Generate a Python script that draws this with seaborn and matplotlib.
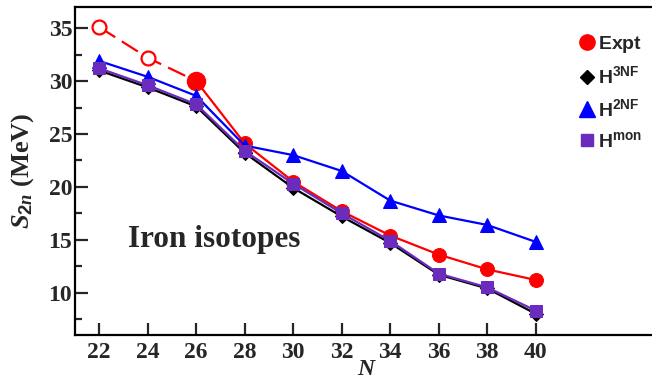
import matplotlib
matplotlib.use("Agg")
import matplotlib.pyplot as plt
from matplotlib.lines import Line2D
from matplotlib.ticker import MultipleLocator
import pandas as pd
import seaborn as sns

# Neutron numbers of the iron isotopes
N = [22, 24, 26, 28, 30, 32, 34, 36, 38, 40]

# Two-neutron separation energies (MeV)
expt = [35.1, 32.2, 30.0, 24.1, 20.5, 17.7, 15.4, 13.6, 12.2, 11.2]
h3nf = [31.0, 29.4, 27.6, 23.2, 19.9, 17.2, 14.7, 11.7, 10.4, 8.0]
h2nf = [31.9, 30.4, 28.6, 23.9, 23.0, 21.5, 18.7, 17.3, 16.4, 14.8]
hmon = [31.2, 29.6, 27.8, 23.4, 20.3, 17.5, 14.9, 11.8, 10.5, 8.3]

# Points 22 and 24 of the experimental series are extrapolated values
n_extrap = 2

sns.set_theme(style="ticks")
plt.rcParams["font.family"] = ["Liberation Serif", "DejaVu Serif"]
plt.rcParams["font.weight"] = "bold"
plt.rcParams["axes.spines.right"] = False
plt.rcParams["mathtext.fontset"] = "custom"
plt.rcParams["mathtext.it"] = "Liberation Serif:italic:bold"
plt.rcParams["mathtext.bf"] = "Liberation Sans:bold"
plt.rcParams["mathtext.rm"] = "Liberation Sans:bold"

RED = "#ff0000"
BLUE = "#0000ff"
BLACK = "#000000"
PURPLE = "#6a2cbc"

PX_PER_N = 24.25
X0, X1 = 21, 45
fig = plt.figure(figsize=(6.52, 3.85), dpi=100)
ax = fig.add_axes([75 / 652, 50 / 385, (X1 - X0) * PX_PER_N / 652, 328 / 385])

df = pd.DataFrame({"N": N, "expt": expt, "h3nf": h3nf, "h2nf": h2nf, "hmon": hmon})
meas = df.iloc[n_extrap:]
extr = df.iloc[: n_extrap + 1]

# extrapolated experimental values: dashed, open circles
sns.lineplot(data=extr, x="N", y="expt", ax=ax, color=RED, lw=1.6,
             dashes=False, linestyle=(0, (8.5, 3.5)), marker=None)
ax.plot(extr["N"].iloc[:n_extrap], extr["expt"].iloc[:n_extrap], ls="none",
        marker="o", ms=10, mfc="white", mec=RED, mew=1.6)

# measured values
sns.lineplot(data=meas, x="N", y="expt", ax=ax, color=RED, lw=1.6,
             marker="o", ms=10, mec=RED)
ax.plot(meas["N"].iloc[:1], meas["expt"].iloc[:1], ls="none", marker="o",
        ms=13, color=RED, mec=RED)

sns.lineplot(data=df, x="N", y="h2nf", ax=ax, color=BLUE, lw=1.6,
             marker="^", ms=10, mec=BLUE)
sns.lineplot(data=df, x="N", y="h3nf", ax=ax, color=BLACK, lw=1.6,
             marker="D", ms=7, mec=BLACK)
sns.lineplot(data=df, x="N", y="hmon", ax=ax, color=PURPLE, lw=1.6,
             marker="s", ms=9, mec=PURPLE)

ax.set_xlim(X0, X1)
ax.set_ylim(6, 37)
ax.set_xticks(N)
ax.xaxis.set_minor_locator(plt.NullLocator())
ax.yaxis.set_minor_locator(MultipleLocator(2.5))
ax.set_yticks([10, 15, 20, 25, 30, 35])
ax.tick_params(axis="both", which="major", direction="in", length=9, width=1.6,
               labelsize=17)
ax.tick_params(axis="x", which="major", pad=5)
ax.tick_params(axis="y", which="major", pad=2)
ax.tick_params(axis="y", which="minor", direction="in", length=5, width=1.6)
ax.tick_params(axis="x", which="both", top=False)
ax.tick_params(axis="y", which="both", right=False)
for lab in ax.get_xticklabels() + ax.get_yticklabels():
    lab.set_fontweight("bold")

for side in ["left", "bottom", "top"]:
    ax.spines[side].set_linewidth(1.6)
    ax.spines[side].set_color("black")
ax.spines["right"].set_visible(False)

ax.set_xlabel("N", fontsize=17, fontstyle="italic", fontweight="bold", labelpad=-3)
ax.set_ylabel(r"$S_{2n}$ (MeV)", fontsize=19, fontweight="bold", labelpad=9)

ax.text(23.2, 14.3, "Iron isotopes", fontsize=22.5, fontweight="bold")

handles = [
    Line2D([], [], ls="none", marker="o", ms=11, color=RED),
    Line2D([], [], ls="none", marker="D", ms=7, color=BLACK),
    Line2D([], [], ls="none", marker="^", ms=11, color=BLUE),
    Line2D([], [], ls="none", marker="s", ms=8, color=PURPLE),
]
labels = [r"$\mathbf{Expt}$", r"$\mathbf{H^{3NF}}$", r"$\mathbf{H^{2NF}}$",
          r"$\mathbf{H^{mon}}$"]
fig.legend(handles, labels, loc="upper left", bbox_to_anchor=(579 / 652, 1 - 34 / 385),
           frameon=False, fontsize=14, handlelength=0.8, handletextpad=0.2,
           labelspacing=0.55, borderpad=0, borderaxespad=0)

fig.savefig("out.png", dpi=100)
